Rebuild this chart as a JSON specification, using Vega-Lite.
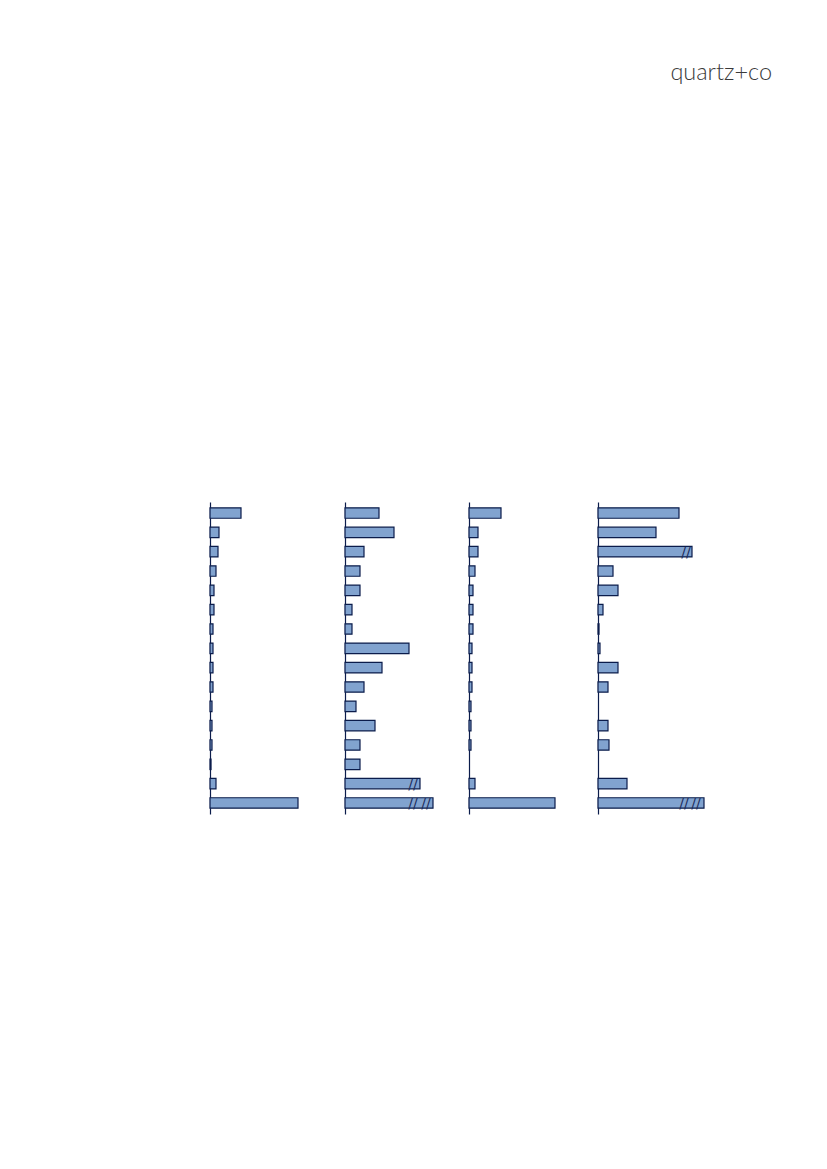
{
  "$schema": "https://vega.github.io/schema/vega-lite/v6.json",
  "background": "white",
  "padding": {"left": 209, "top": 60, "right": 5, "bottom": 5},
  "title": {"text": "quartz+co", "anchor": "end", "fontSize": 23.5, "font": "Lato", "fontWeight": 300, "color": "#3a3a3a", "offset": 418},
  "spacing": 0,
  "config": {
    "view": {"stroke": null},
    "axis": {"minExtent": 0, "maxExtent": 0},
    "concat": {"spacing": 0}
  },
  "datasets": {
    "bars": [
      {"panel": 1, "row": 1, "v": 31}, {"panel": 1, "row": 2, "v": 9}, {"panel": 1, "row": 3, "v": 8}, {"panel": 1, "row": 4, "v": 6},
      {"panel": 1, "row": 5, "v": 4}, {"panel": 1, "row": 6, "v": 4}, {"panel": 1, "row": 7, "v": 3}, {"panel": 1, "row": 8, "v": 3},
      {"panel": 1, "row": 9, "v": 3}, {"panel": 1, "row": 10, "v": 3}, {"panel": 1, "row": 11, "v": 2}, {"panel": 1, "row": 12, "v": 2},
      {"panel": 1, "row": 13, "v": 2}, {"panel": 1, "row": 14, "v": 1}, {"panel": 1, "row": 15, "v": 6}, {"panel": 1, "row": 16, "v": 88},
      {"panel": 2, "row": 1, "v": 34}, {"panel": 2, "row": 2, "v": 49}, {"panel": 2, "row": 3, "v": 19}, {"panel": 2, "row": 4, "v": 15},
      {"panel": 2, "row": 5, "v": 15}, {"panel": 2, "row": 6, "v": 7}, {"panel": 2, "row": 7, "v": 7}, {"panel": 2, "row": 8, "v": 64},
      {"panel": 2, "row": 9, "v": 37}, {"panel": 2, "row": 10, "v": 19}, {"panel": 2, "row": 11, "v": 11}, {"panel": 2, "row": 12, "v": 30},
      {"panel": 2, "row": 13, "v": 15}, {"panel": 2, "row": 14, "v": 15}, {"panel": 2, "row": 15, "v": 75}, {"panel": 2, "row": 16, "v": 88},
      {"panel": 3, "row": 1, "v": 32}, {"panel": 3, "row": 2, "v": 9}, {"panel": 3, "row": 3, "v": 9}, {"panel": 3, "row": 4, "v": 6},
      {"panel": 3, "row": 5, "v": 4}, {"panel": 3, "row": 6, "v": 4}, {"panel": 3, "row": 7, "v": 4}, {"panel": 3, "row": 8, "v": 3},
      {"panel": 3, "row": 9, "v": 3}, {"panel": 3, "row": 10, "v": 3}, {"panel": 3, "row": 11, "v": 2}, {"panel": 3, "row": 12, "v": 2},
      {"panel": 3, "row": 13, "v": 2}, {"panel": 3, "row": 14, "v": 0}, {"panel": 3, "row": 15, "v": 6}, {"panel": 3, "row": 16, "v": 86},
      {"panel": 4, "row": 1, "v": 81}, {"panel": 4, "row": 2, "v": 58}, {"panel": 4, "row": 3, "v": 94}, {"panel": 4, "row": 4, "v": 15},
      {"panel": 4, "row": 5, "v": 20}, {"panel": 4, "row": 6, "v": 5}, {"panel": 4, "row": 7, "v": 1}, {"panel": 4, "row": 8, "v": 2},
      {"panel": 4, "row": 9, "v": 20}, {"panel": 4, "row": 10, "v": 10}, {"panel": 4, "row": 11, "v": 0}, {"panel": 4, "row": 12, "v": 10},
      {"panel": 4, "row": 13, "v": 11}, {"panel": 4, "row": 14, "v": 0}, {"panel": 4, "row": 15, "v": 29}, {"panel": 4, "row": 16, "v": 106}
    ],
    "breaks": [
      {"panel": 2, "row": 15, "at": 68},
      {"panel": 2, "row": 16, "at": 68},
      {"panel": 2, "row": 16, "at": 81},
      {"panel": 4, "row": 3, "at": 88},
      {"panel": 4, "row": 16, "at": 86},
      {"panel": 4, "row": 16, "at": 98}
    ]
  },
  "hconcat": [
    {
      "width": 134, "height": 312,
      "layer": [
        {
          "data": {"name": "bars"},
          "transform": [{"filter": "datum.panel == 1 && datum.v > 0"}],
          "mark": {"type": "bar", "fill": "#81a3cf", "stroke": "#0b1c4b", "strokeWidth": 1.2},
          "encoding": {
            "y": {"field": "row", "type": "ordinal", "scale": {"domain": [1,2,3,4,5,6,7,8,9,10,11,12,13,14,15,16], "paddingInner": 0.46, "paddingOuter": 0.3}, "axis": {"labels": false, "ticks": false, "title": null, "domainColor": "#0b1c4b", "domainWidth": 1.2}},
            "x": {"field": "v", "type": "quantitative", "scale": {"domain": [0, 134], "nice": false}, "axis": null}
          }
        }
      ]
    },
    {
      "width": 123, "height": 312,
      "layer": [
        {
          "data": {"name": "bars"},
          "transform": [{"filter": "datum.panel == 2 && datum.v > 0"}],
          "mark": {"type": "bar", "fill": "#81a3cf", "stroke": "#0b1c4b", "strokeWidth": 1.2},
          "encoding": {
            "y": {"field": "row", "type": "ordinal", "scale": {"domain": [1,2,3,4,5,6,7,8,9,10,11,12,13,14,15,16], "paddingInner": 0.46, "paddingOuter": 0.3}, "axis": {"labels": false, "ticks": false, "title": null, "domainColor": "#0b1c4b", "domainWidth": 1.2}},
            "x": {"field": "v", "type": "quantitative", "scale": {"domain": [0, 123], "nice": false}, "axis": null}
          }
        },
        {
          "data": {"name": "breaks"},
          "transform": [{"filter": "datum.panel == 2"}],
          "mark": {"type": "text", "text": "//", "font": "DejaVu Sans", "fontSize": 14, "color": "#1c2d5c", "align": "center", "baseline": "middle", "dy": 1},
          "encoding": {
            "y": {"field": "row", "type": "ordinal", "scale": {"domain": [1,2,3,4,5,6,7,8,9,10,11,12,13,14,15,16], "paddingInner": 0.46, "paddingOuter": 0.3}},
            "x": {"field": "at", "type": "quantitative", "scale": {"domain": [0, 123], "nice": false}}
          }
        }
      ]
    },
    {
      "width": 127.5, "height": 312,
      "layer": [
        {
          "data": {"name": "bars"},
          "transform": [{"filter": "datum.panel == 3 && datum.v > 0"}],
          "mark": {"type": "bar", "fill": "#81a3cf", "stroke": "#0b1c4b", "strokeWidth": 1.2},
          "encoding": {
            "y": {"field": "row", "type": "ordinal", "scale": {"domain": [1,2,3,4,5,6,7,8,9,10,11,12,13,14,15,16], "paddingInner": 0.46, "paddingOuter": 0.3}, "axis": {"labels": false, "ticks": false, "title": null, "domainColor": "#0b1c4b", "domainWidth": 1.2}},
            "x": {"field": "v", "type": "quantitative", "scale": {"domain": [0, 127.5], "nice": false}, "axis": null}
          }
        }
      ]
    },
    {
      "width": 174, "height": 312,
      "layer": [
        {
          "data": {"name": "bars"},
          "transform": [{"filter": "datum.panel == 4 && datum.v > 0"}],
          "mark": {"type": "bar", "fill": "#81a3cf", "stroke": "#0b1c4b", "strokeWidth": 1.2},
          "encoding": {
            "y": {"field": "row", "type": "ordinal", "scale": {"domain": [1,2,3,4,5,6,7,8,9,10,11,12,13,14,15,16], "paddingInner": 0.46, "paddingOuter": 0.3}, "axis": {"labels": false, "ticks": false, "title": null, "domainColor": "#0b1c4b", "domainWidth": 1.2}},
            "x": {"field": "v", "type": "quantitative", "scale": {"domain": [0, 174], "nice": false}, "axis": null}
          }
        },
        {
          "data": {"name": "breaks"},
          "transform": [{"filter": "datum.panel == 4"}],
          "mark": {"type": "text", "text": "//", "font": "DejaVu Sans", "fontSize": 14, "color": "#1c2d5c", "align": "center", "baseline": "middle", "dy": 1},
          "encoding": {
            "y": {"field": "row", "type": "ordinal", "scale": {"domain": [1,2,3,4,5,6,7,8,9,10,11,12,13,14,15,16], "paddingInner": 0.46, "paddingOuter": 0.3}},
            "x": {"field": "at", "type": "quantitative", "scale": {"domain": [0, 174], "nice": false}}
          }
        }
      ]
    }
  ]
}
